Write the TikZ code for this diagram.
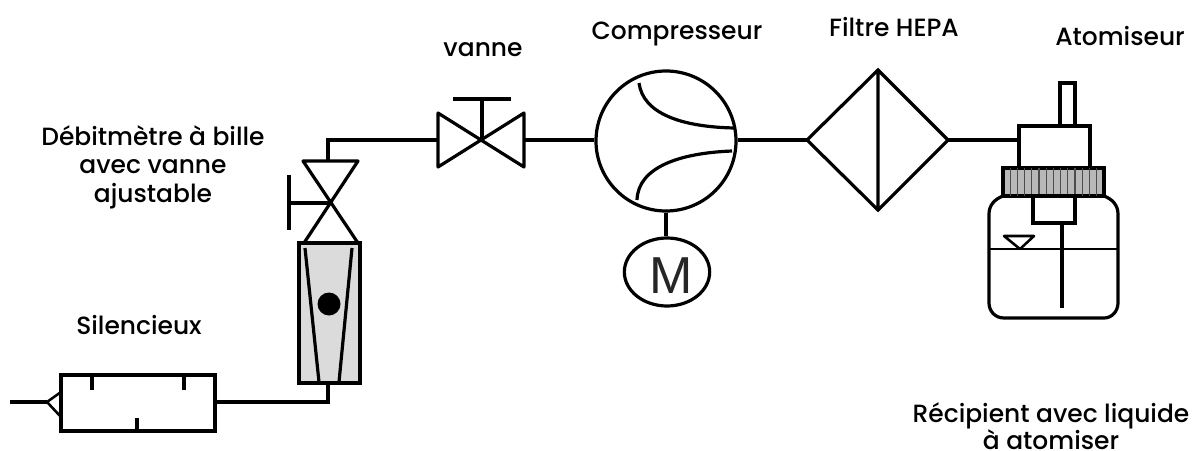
\documentclass[tikz,border=0pt]{standalone}
\usepackage{fontspec}
\setmainfont{Poppins Medium}
\setsansfont{Liberation Sans}
\usetikzlibrary{calc,shapes.geometric}
\tikzset{
  x=0.75pt,y=-0.75pt,
  pipe/.style={line width=2.4pt,black,line join=miter},
  thin pipe/.style={line width=1.9pt,black},
  lbl/.style={font=\fontsize{18.7pt}{21.4pt}\selectfont,align=center,inner sep=0pt,text=black},
}
\begin{document}
\begin{tikzpicture}
\useasboundingbox (0,0) rectangle (1196,450);
% labels
\node[lbl] (l1) at (483,50) {vanne};
\node[lbl] (l2) at (677,34) {Compresseur};
\node[lbl] (l3) at (894,27) {Filtre HEPA};
\node[lbl] (l4) at (1120,36) {Atomiseur};
\node[lbl] (l5) at (153,167) {Débitmètre à bille\\avec vanne\\ajustable};
\node[lbl] (l6) at (139,325) {Silencieux};
\node[lbl,font=\fontsize{18.7pt}{20.4pt}\selectfont] (l7) at (1051,426) {Récipient avec liquide\\à atomiser};
% coordinates
\coordinate (inlet) at (10,402);
\coordinate (sA) at (47,402);
\coordinate (sE) at (216,402);
\coordinate (fmB) at (328,402);
\coordinate (fmBot) at (328,382);
\coordinate (v1T) at (328,161);
\coordinate (elbow) at (328,140);
\coordinate (v2L) at (438,140);
\coordinate (v2R) at (524,140);
\coordinate (v2C) at (482,140);
% silencer
\draw[pipe] (61,375) rectangle (215,431);
\draw[pipe] (92,375)--(92,390) (184,375)--(184,390) (137,418)--(137,431);
\draw[thin pipe] (61,392)--(47,402)--(61,417);
\draw[pipe] (inlet)--(sA);
\draw[pipe] (sE)--(fmB)--(fmBot);
% flowmeter
\draw[pipe,fill=black!14] (299,243) rectangle (360,383);
\draw[pipe] (305,248)--(319,382) (352,248)--(339,382);
\fill (329,304) circle (11.5);
% valve 1
\draw[pipe,line join=round] (304,243)--(358,161)--(303,161)--(358,243);
\draw[pipe] (v1T)--(elbow)--(v2L);
\draw[pipe] (330,203)--(289,203) (289,175)--(289,230);
% valve 2
\draw[pipe,line join=round] (438,113)--(524,167)--(524,113)--(438,167)--cycle;
\draw[pipe] (v2C)--(482,99) (453,99)--(511,99);
% compressor
\node[draw,circle,line width=2.4pt,minimum size=105pt,inner sep=0pt] (comp) at (666,141) {};
\draw[pipe] (v2R)--(v2R -| comp.west);
\draw[pipe] (639,83) .. controls (643,113) and (680,127) .. (735,128);
\draw[pipe] (637,200) .. controls (638,167) and (680,153) .. (732,151);
% motor
\node[draw,ellipse,line width=2.4pt,minimum width=64pt,minimum height=51pt,inner sep=0pt] (mot) at (667,272) {};
\node[font=\fontsize{39pt}{39pt}\selectfont\sffamily,inner sep=0pt,text=black!85] (M) at (671,276) {M};
\draw[pipe] (comp.south)--(mot.north -| comp.south);
% filter
\coordinate (fL) at (807,140);
\coordinate (fR) at (948,140);
\coordinate (fT) at (878,70);
\coordinate (fB) at (878,210);
\draw[pipe] (fL -| comp.east)--(fL);
\draw[pipe] (fL)--(fT)--(fR)--(fB)--cycle (fT)--(fB);
% atomiser
\draw[pipe] (fR)--(1019,140);
\draw[pipe] (1019,126) rectangle (1090,168);
\draw[pipe] (1060,83) rectangle (1075,126);
\draw[pipe,fill=black!28] (1003,168) rectangle (1104,196);
\foreach \i in {1,...,13} \draw[line width=0.8pt,black!70] ({1003+\i*7.2},168)--({1003+\i*7.2},196);
\draw[pipe] (1003,196) .. controls (995,199) and (989,205) .. (989,214) -- (989,303)
  .. controls (989,311) and (995,318) .. (1004,318) -- (1104,318) .. controls (1112,318) and (1118,311) .. (1118,303) -- (1118,214)
  .. controls (1118,205) and (1112,199) .. (1104,196);
\draw[pipe] (1033,196) rectangle (1075,223);
\draw[line width=3pt] (1062,223)--(1062,308);
\draw[thin pipe] (989,249)--(1118,249);
\draw[thin pipe,line join=round] (1004,236)--(1034,236)--(1020,249)--cycle;
\end{tikzpicture}
\end{document}
